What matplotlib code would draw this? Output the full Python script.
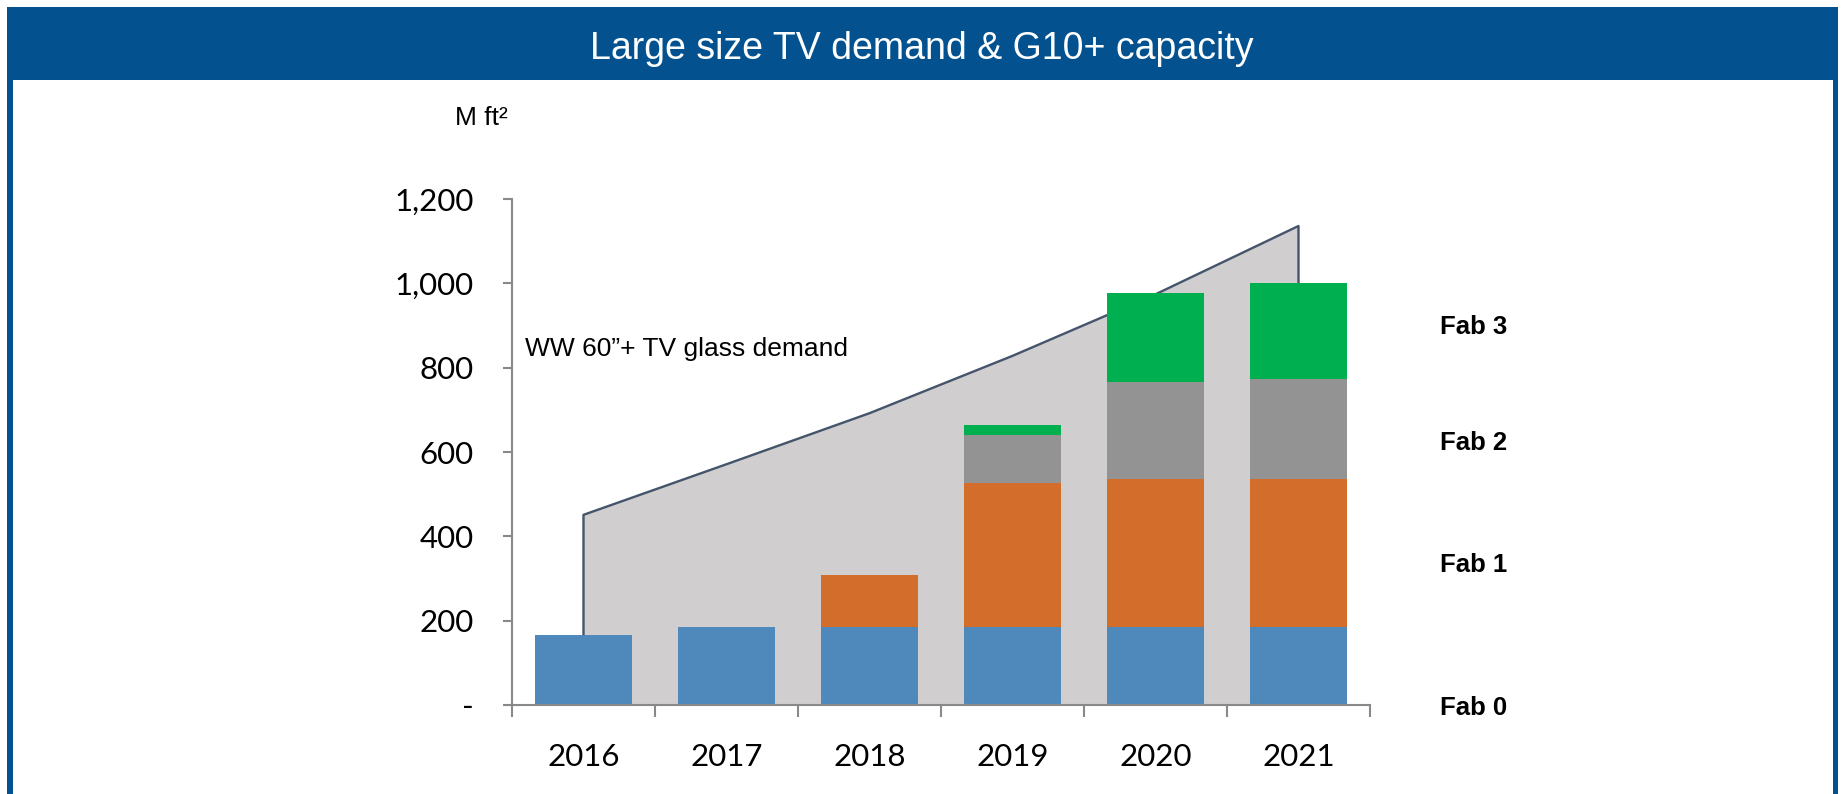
import matplotlib
matplotlib.use("Agg")
import matplotlib.pyplot as plt
import numpy as np
from matplotlib.patches import Rectangle
from matplotlib.ticker import FuncFormatter

# data (M ft2)
years = ["2016", "2017", "2018", "2019", "2020", "2021"]
demand = [451, 571, 692, 828, 974, 1136]     # WW 60"+ TV glass demand
fab0 = [165, 184, 184, 184, 184, 184]
fab1 = [0, 0, 124, 342, 353, 353]
fab2 = [0, 0, 0, 115, 229, 236]
fab3 = [0, 0, 0, 22, 210, 227]
fab_names = ["Fab 0", "Fab 1", "Fab 2", "Fab 3"]
yticks = [0, 200, 400, 600, 800, 1000, 1200]

W, H = 1843, 794
def fx(x):
    return x / W
def fy(y):
    return 1 - y / H

fig = plt.figure(figsize=(W / 100, H / 100), dpi=100)
fig.patch.set_facecolor("white")

# frame and title banner
blue = "#03528F"
fig.add_artist(Rectangle((fx(7), fy(794)), fx(13) - fx(7), fy(7) - fy(794),
                         transform=fig.transFigure, color=blue, lw=0))
fig.add_artist(Rectangle((fx(1833), fy(794)), fx(1838) - fx(1833), fy(7) - fy(794),
                         transform=fig.transFigure, color=blue, lw=0))
fig.add_artist(Rectangle((fx(7), fy(80)), fx(1838) - fx(7), fy(7) - fy(80),
                         transform=fig.transFigure, color=blue, lw=0))
fig.text(fx(922), fy(59), "Large size TV demand & G10+ capacity", color="white",
         ha="center", va="baseline", fontsize=27, family="Liberation Sans")

ax = fig.add_axes([fx(512), fy(705), fx(1370) - fx(512), fy(199) - fy(705)])
ax.set_facecolor("none")
x = np.arange(len(years))

# demand area
ax.fill_between(x, demand, 0, color="#D0CECE", lw=0, zorder=1)
ax.plot(np.r_[x[0], x, x[-1]], np.r_[0, demand, 0], color="#44546A", lw=1.7, zorder=1.5)

# stacked capacity bars
colors = ["#4F89BC", "#D36D2B", "#939393", "#00AF50"]
bottom = np.zeros(len(years))
for vals, c in zip([fab0, fab1, fab2, fab3], colors):
    ax.bar(x, vals, 0.68, bottom=bottom, color=c, lw=0, zorder=2)
    bottom += np.array(vals)

ax.set_xlim(-0.5, 5.5)
ax.set_ylim(0, 1200)
axc = "#898989"
for s in ["top", "right"]:
    ax.spines[s].set_visible(False)
for s in ["left", "bottom"]:
    ax.spines[s].set_color(axc)
    ax.spines[s].set_linewidth(1.5)
    ax.spines[s].set_zorder(3)

ax.set_yticks(yticks)
ax.yaxis.set_major_formatter(FuncFormatter(lambda v, p: "-" if v == 0 else f"{v:,.0f}"))
ax.tick_params(axis="y", length=6.5, width=1.5, color=axc, pad=21, labelsize=22.5)
ax.set_xticks(x)
ax.set_xticklabels(years)
ax.set_xticks(np.arange(-0.5, 6, 1), minor=True)
ax.tick_params(axis="x", which="major", length=0, pad=27, labelsize=22.5)
ax.tick_params(axis="x", which="minor", length=8.6, width=1.5, color=axc)
for lab in ax.get_xticklabels() + ax.get_yticklabels():
    lab.set_family("Lato")

ax.text(-0.41, 845, "WW 60\u201d+ TV glass demand", fontsize=19, family="Liberation Sans",
        va="center", ha="left")

fig.text(fx(508), fy(125), "M ft\u00b2", fontsize=19, family="Liberation Sans",
         ha="right", va="baseline")

# fab labels on the right
fab_y = [708, 565, 443, 327]
for name, yy in zip(fab_names, fab_y):
    fig.text(fx(1440), fy(yy), name, fontsize=18.5, fontweight="bold",
             family="Liberation Sans", ha="left", va="center")

fig.savefig("out.png", dpi=100)
